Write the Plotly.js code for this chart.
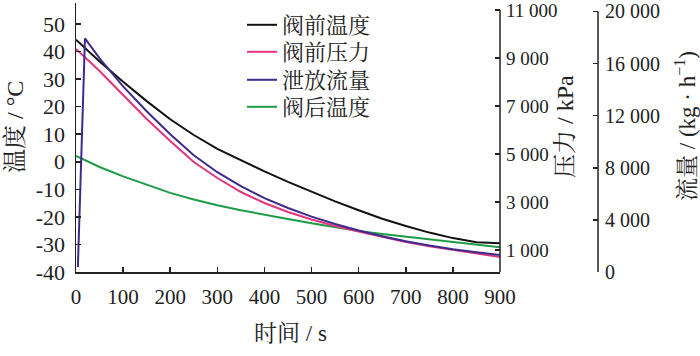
<!DOCTYPE html>
<html>
<head>
<meta charset="utf-8">
<script src="https://cdn.plot.ly/plotly-3.0.1.min.js"></script>
<style>html,body{margin:0;padding:0;background:#fff;}#chart{width:700px;height:356px;}</style>
</head>
<body>
<div id="chart"></div>
<script>
// ---- data ----
const seriesNames = ["阀前温度", "阀前压力", "泄放流量", "阀后温度"];
const time = [0, 50, 100, 150, 200, 250, 300, 350, 400, 450, 500, 550, 600, 650, 700, 750, 800, 850, 900];
const tempBefore = [44.3, 36.4, 29.0, 22.0, 15.4, 9.7, 4.7, 0.5, -3.5, -7.3, -10.9, -14.4, -17.6, -20.7, -23.3, -25.7, -27.7, -29.2, -29.6];
const pressureBefore = [9376, 8459, 7459, 6459, 5542, 4667, 4000, 3417, 2958, 2583, 2271, 2000, 1771, 1542, 1333, 1154, 1000, 854, 708];
const flowTime = [4, 19, 50, 100, 150, 200, 250, 300, 350, 400, 450, 500, 550, 600, 650, 700, 750, 800, 850, 900];
const flowRate = [386, 17930, 16400, 14250, 12340, 10570, 8960, 7660, 6590, 5670, 4910, 4250, 3680, 3180, 2750, 2360, 2030, 1740, 1520, 1300];
const tempAfter = [2.1, -1.9, -5.3, -8.4, -11.3, -13.7, -15.8, -17.6, -19.3, -20.8, -22.3, -23.8, -25.1, -26.2, -27.2, -28.2, -29.2, -30.1, -31.0];

const xTicks = [0, 100, 200, 300, 400, 500, 600, 700, 800, 900];
const tempTicks = [-40, -30, -20, -10, 0, 10, 20, 30, 40, 50];
const pressureTicks = [1000, 3000, 5000, 7000, 9000, 11000];
const pressureTickText = ["1 000", "3 000", "5 000", "7 000", "9 000", "11 000"];
const flowTicks = [0, 4000, 8000, 12000, 16000, 20000];
const flowTickText = ["0", "4 000", "8 000", "12 000", "16 000", "20 000"];

// ---- styling ----
const FONT = "'Liberation Serif', 'Noto Serif CJK SC', 'Noto Sans CJK SC', serif";
const colors = ["#111111", "#e2357e", "#3f2a8c", "#1f9a47"];
const W = 700, H = 356;
const L = 76, R = 500, T = 3, B = 272;
const xDom = [L / W, R / W];
const yDom = [(H - B) / H, (H - T) / H];
const legendNames = ["legend", "legend2", "legend3", "legend4"];
const legendRowsY = [25, 52, 80, 107];

const traces = [
  {x: time, y: tempBefore, yaxis: "y"},
  {x: time, y: pressureBefore, yaxis: "y2"},
  {x: flowTime, y: flowRate, yaxis: "y3"},
  {x: time, y: tempAfter, yaxis: "y"}
].map((t, i) => Object.assign({
  type: "scatter", mode: "lines", xaxis: "x", hoverinfo: "skip",
  name: seriesNames[i], legend: legendNames[i], line: {color: colors[i], width: 2}
}, t));

const axisCommon = {
  showgrid: false, zeroline: false, ticks: "inside", ticklen: 5, tickwidth: 1.5,
  tickcolor: "#222", linecolor: "#222", linewidth: 1.5, fixedrange: true,
  ticklabeloverflow: "allow"
};

const pRange = [83, 11292];
const fRange = [0, 20650];
const tRange = [-40, 57.6];

const layout = {
  width: W, height: H,
  margin: {l: 0, r: 0, t: 0, b: 0},
  paper_bgcolor: "#fff", plot_bgcolor: "#fff",
  font: {family: FONT, color: "#222", size: 20},
  showlegend: true,
  xaxis: Object.assign({}, axisCommon, {
    domain: xDom, range: [0, 900], showline: true, tickvals: xTicks,
    tickfont: {family: FONT, size: 21}, ticklabelstandoff: 5, anchor: "y"
  }),
  yaxis: Object.assign({}, axisCommon, {
    domain: yDom, range: tRange, showline: true,
    tickvals: tempTicks.concat([57.4]), ticktext: tempTicks.map(String).concat([""]),
    tickfont: {family: FONT, size: 22}, ticklabelstandoff: 5, anchor: "x"
  }),
  yaxis2: Object.assign({}, axisCommon, {
    overlaying: "y", side: "right", anchor: "x", range: pRange, showline: false,
    tickvals: pressureTicks, ticktext: pressureTickText,
    tickfont: {family: FONT, size: 19}, ticklabelstandoff: 5
  }),
  yaxis3: Object.assign({}, axisCommon, {
    overlaying: "y", side: "right", anchor: "free", position: 598 / W, range: fRange, showline: false,
    tickvals: flowTicks, ticktext: flowTickText,
    tickfont: {family: FONT, size: 20}, ticklabelstandoff: 6
  }),
  shapes: [
    {type: "line", xref: "paper", x0: R / W, x1: R / W, yref: "y2", y0: pRange[0], y1: 11000,
     line: {color: "#222", width: 1.5}},
    {type: "line", xref: "paper", x0: 598 / W, x1: 598 / W, yref: "y3", y0: 0, y1: 20000,
     line: {color: "#222", width: 1.5}}
  ],
  annotations: [
    {text: "温度 / °C", xref: "paper", yref: "paper", x: 15 / W, y: (H - 127) / H, textangle: -90,
     showarrow: false, font: {family: FONT, size: 24}, xanchor: "center", yanchor: "middle"},
    {text: "压力 / kPa", xref: "paper", yref: "paper", x: 565 / W, y: (H - 127) / H, textangle: -90,
     showarrow: false, font: {family: FONT, size: 24}, xanchor: "center", yanchor: "middle"},
    {text: "流量 / (kg · h<sup>−1</sup>)", xref: "paper", yref: "paper", x: 686 / W, y: (H - 126) / H, textangle: -90,
     showarrow: false, font: {family: FONT, size: 23}, xanchor: "center", yanchor: "middle"},
    {text: "时间 / s", xref: "paper", yref: "paper", x: 290 / W, y: (H - 333) / H,
     showarrow: false, font: {family: FONT, size: 23}, xanchor: "center", yanchor: "middle"}
  ]
};

legendNames.forEach((ln, i) => {
  layout[ln] = {
    x: 242 / W, xanchor: "left", y: (H - legendRowsY[i]) / H, yanchor: "middle",
    font: {family: FONT, size: 22, color: "#222"}, bgcolor: "rgba(0,0,0,0)", borderwidth: 0
  };
});

Plotly.newPlot("chart", traces, layout, {staticPlot: true, displayModeBar: false});
</script>
</body>
</html>
